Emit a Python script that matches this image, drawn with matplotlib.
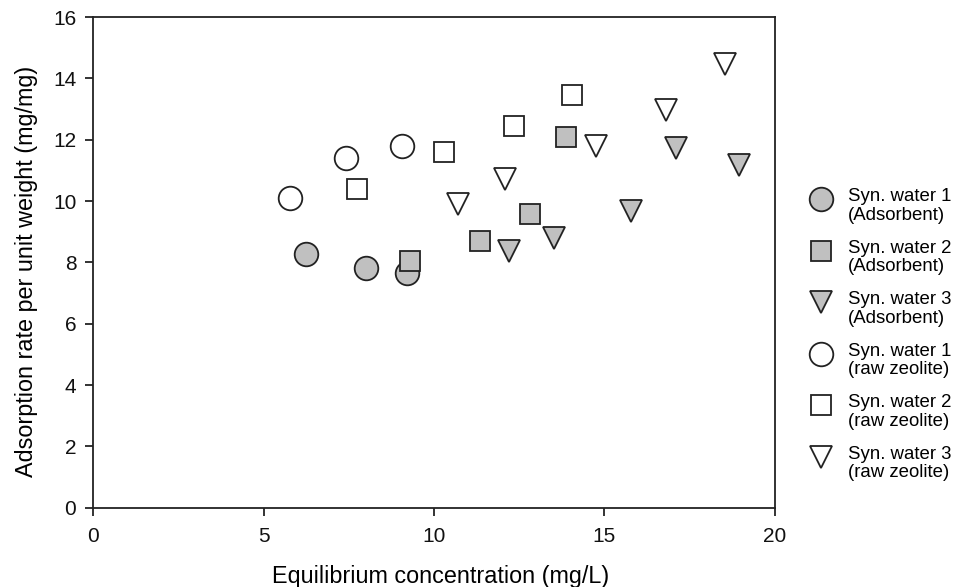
import numpy as np
import matplotlib.pyplot as plt
import matplotlib.transforms as mtransforms

plt.rcParams['font.family'] = ['Liberation Sans', 'DejaVu Sans']

# Synthetic water, adsorbent
ads1_x = [6.24, 8.01, 9.20]
ads1_y = [8.26, 7.81, 7.64]
ads2_x = [9.30, 11.35, 12.82, 13.88]
ads2_y = [8.04, 8.71, 9.59, 12.09]
ads3_x = [12.20, 13.51, 15.78, 17.10, 18.95]
ads3_y = [8.36, 8.80, 9.67, 11.73, 11.17]

# Synthetic water, raw zeolite
raw1_x = [5.78, 7.41, 9.05]
raw1_y = [10.09, 11.39, 11.79]
raw2_x = [7.75, 10.28, 12.35, 14.06]
raw2_y = [10.40, 11.59, 12.46, 13.46]
raw3_x = [10.70, 12.07, 14.76, 16.79, 18.53]
raw3_y = [9.91, 10.71, 11.80, 12.97, 14.47]

series = [
    (ads1_x, ads1_y, 'o', '#c0c0c0', 'Syn. water 1\n(Adsorbent)'),
    (ads2_x, ads2_y, 's', '#c0c0c0', 'Syn. water 2\n(Adsorbent)'),
    (ads3_x, ads3_y, 'v', '#c0c0c0', 'Syn. water 3\n(Adsorbent)'),
    (raw1_x, raw1_y, 'o', 'white', 'Syn. water 1\n(raw zeolite)'),
    (raw2_x, raw2_y, 's', 'white', 'Syn. water 2\n(raw zeolite)'),
    (raw3_x, raw3_y, 'v', 'white', 'Syn. water 3\n(raw zeolite)'),
]
msize = {'o': 17, 's': 14.5, 'v': 16}

fig = plt.figure(figsize=(9.55, 5.87), dpi=100)
ax = fig.add_axes([0.0974, 0.1351, 0.7141, 0.8359])

for x, y, m, fc, label in series:
    ax.plot(x, y, linestyle='none', marker=m, markersize=msize[m],
            markerfacecolor=fc, markeredgecolor='#222222', markeredgewidth=1.3,
            label=label)

ax.set_xlim(0, 20)
ax.set_ylim(0, 16)
ax.set_xticks(np.arange(0, 21, 5))
ax.set_yticks(np.arange(0, 17, 2))
ax.tick_params(direction='out', length=6, width=1.2, labelsize=15, colors='#111111')
ax.tick_params(axis='x', pad=8)
ax.tick_params(axis='y', pad=6)
for s in ax.spines.values():
    s.set_linewidth(1.3)
    s.set_color('#222222')

ax.set_xlabel('Equilibrium concentration (mg/L)', fontsize=16.8)
ax.set_ylabel('Adsorption rate per unit weight (mg/mg)', fontsize=16.8)
ax.xaxis.set_label_coords(0.509, -0.117)
ax.yaxis.set_label_coords(-0.081, 0.482)

leg = ax.legend(loc='upper left', bbox_to_anchor=(1.04, 0.68), frameon=False,
                fontsize=13.4, handletextpad=0.86, labelspacing=0.87,
                borderaxespad=0, handlelength=1.2)
# labels sit a little lower than the markers in the original
shift = mtransforms.ScaledTranslation(0, -0.07, fig.dpi_scale_trans)
for t in leg.get_texts():
    t.set_linespacing(1.1)
    t.set_transform(t.get_transform() + shift)

fig.savefig('out.png', dpi=100)
